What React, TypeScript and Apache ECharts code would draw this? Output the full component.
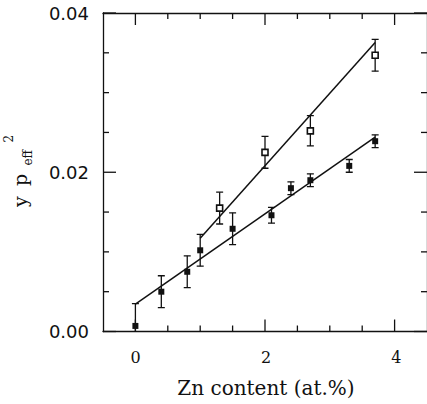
import React, { useEffect, useRef } from "react";
import * as echarts from "echarts";

// Filled squares (lower fit)
const xFilled = [0, 0.4, 0.8, 1.0, 1.5, 2.1, 2.4, 2.7, 3.3, 3.7];
const yFilled = [0.0007, 0.005, 0.0075, 0.0102, 0.0129, 0.0146, 0.018, 0.019, 0.0208, 0.0239];
const errFilled = [0.0028, 0.002, 0.002, 0.002, 0.002, 0.001, 0.0008, 0.0008, 0.0008, 0.0008];
// Open squares (upper fit)
const xOpen = [1.3, 2.0, 2.7, 3.7];
const yOpen = [0.0155, 0.0225, 0.0252, 0.0347];
const errOpen = [0.002, 0.002, 0.0019, 0.002];
// Fitted lines
const fitFilled = [[0, 0.00345], [3.7, 0.0244]];
const fitOpen = [[1.0, 0.0117], [3.7, 0.0363]];

// Tick marks (mirrored on all four sides)
const xTickMajor = [0, 2, 4];
const xTickMinor = [0.5, 1, 1.5, 2.5, 3, 3.5];
const yTickMajor = [0, 0.02, 0.04];
const yTickMinor = [0.005, 0.01, 0.015, 0.025, 0.03, 0.035];

const xName = "Zn content (at.%)";

const BLACK = "#111";

export default function App() {
  const ref = useRef<HTMLDivElement>(null);
  useEffect(() => {
    if (!ref.current) return;
    const chart = echarts.init(ref.current, null, { renderer: "svg" });

    const filled = xFilled.map((x, i) => [x, yFilled[i], errFilled[i]]);
    const open = xOpen.map((x, i) => [x, yOpen[i], errOpen[i]]);

    const tickStyle = { stroke: BLACK, lineWidth: 1.3 };

    const errRender = (params: any, api: any) => {
      const x = api.value(0);
      const y = api.value(1);
      const e = api.value(2);
      const top = api.coord([x, y + e]);
      const bot = api.coord([x, y - e]);
      const cw = 3.5;
      return {
        type: "group",
        children: [
          { type: "line", shape: { x1: top[0], y1: top[1], x2: bot[0], y2: bot[1] }, style: tickStyle },
          { type: "line", shape: { x1: top[0] - cw, y1: top[1], x2: top[0] + cw, y2: top[1] }, style: tickStyle },
          { type: "line", shape: { x1: bot[0] - cw, y1: bot[1], x2: bot[0] + cw, y2: bot[1] }, style: tickStyle },
        ],
      };
    };

    const xTickRender = (len: number) => (params: any, api: any) => {
      const cs = params.coordSys;
      const px = api.coord([api.value(0), 0.02])[0];
      const b = cs.y + cs.height;
      return {
        type: "group",
        children: [
          { type: "line", shape: { x1: px, y1: b, x2: px, y2: b - len }, style: tickStyle },
          { type: "line", shape: { x1: px, y1: cs.y, x2: px, y2: cs.y + len }, style: tickStyle },
        ],
      };
    };

    const yTickRender = (len: number) => (params: any, api: any) => {
      const cs = params.coordSys;
      const py = api.coord([2, api.value(1)])[1];
      const r = cs.x + cs.width;
      return {
        type: "group",
        children: [
          { type: "line", shape: { x1: cs.x, y1: py, x2: cs.x + len, y2: py }, style: tickStyle },
          { type: "line", shape: { x1: r, y1: py, x2: r - len, y2: py }, style: tickStyle },
        ],
      };
    };

    const frameAxis = {
      min: -0.5,
      max: 4.5,
      interval: 0.5,
      axisLine: { show: true, onZero: false, lineStyle: { color: BLACK, width: 1.3 } },
      axisTick: { show: false },
      axisLabel: { show: false },
      splitLine: { show: false },
    };

    const yBase = {
      min: 0,
      max: 0.04,
      interval: 0.02,
      axisLine: { show: true, onZero: false, lineStyle: { color: BLACK, width: 1.3 } },
      axisTick: { show: false },
      splitLine: { show: false },
    };

    const serifMain = '19px "DejaVu Serif"';
    const serifSmall = '12px "DejaVu Serif"';

    const tickSeries = (data: number[][], render: any) => ({
      type: "custom",
      xAxisIndex: 0,
      yAxisIndex: 0,
      data,
      renderItem: render,
      clip: false,
      silent: true,
      z: 5,
    });

    chart.setOption({
      animation: false,
      backgroundColor: "#fff",
      grid: [
        { left: 103, top: 13, width: 326, height: 318.5 },
        { left: 135.6, top: 13, width: 260.8, height: 318.5 },
      ],
      xAxis: [
        { ...frameAxis, type: "value", gridIndex: 0, position: "bottom" },
        { ...frameAxis, type: "value", gridIndex: 0, position: "top" },
        {
          type: "value",
          gridIndex: 1,
          position: "bottom",
          min: 0,
          max: 4,
          interval: 2,
          axisLine: { show: false, onZero: false },
          axisTick: { show: false },
          splitLine: { show: false },
          axisLabel: {
            show: true,
            margin: 18,
            color: BLACK,
            fontFamily: "DejaVu Serif",
            fontSize: 16,
          },
          name: xName,
          nameLocation: "middle",
          nameGap: 46,
          nameTextStyle: { color: BLACK, fontFamily: "DejaVu Serif", fontSize: 20 },
        },
      ],
      yAxis: [
        {
          ...yBase,
          type: "value",
          gridIndex: 0,
          position: "left",
          axisLabel: {
            show: true,
            margin: 14,
            color: BLACK,
            fontFamily: "DejaVu Sans",
            fontSize: 18,
            formatter: (v: number) => v.toFixed(2),
          },
        },
        { ...yBase, type: "value", gridIndex: 0, position: "right", axisLabel: { show: false } },
        { type: "value", gridIndex: 1, min: 0, max: 0.04, show: false, axisLine: { onZero: false } },
      ],
      graphic: [
        {
          type: "group",
          x: 27,
          y: 207,
          rotation: Math.PI / 2,
          children: [
            {
              type: "text",
              x: 0,
              y: -6.6,
              style: { text: "y", font: serifMain, fill: BLACK, textAlign: "left", textVerticalAlign: "middle", verticalAlign: "middle" },
            },
            {
              type: "text",
              x: 21,
              y: -6.6,
              style: { text: "p", font: serifMain, fill: BLACK, textAlign: "left", textVerticalAlign: "middle", verticalAlign: "middle" },
            },
            {
              type: "text",
              x: 41.5,
              y: 0.8,
              style: { text: "eff", font: serifSmall, fill: BLACK, textAlign: "left", textVerticalAlign: "middle", verticalAlign: "middle" },
            },
            {
              type: "text",
              x: 64.5,
              y: -17.7,
              style: { text: "2", font: serifSmall, fill: BLACK, textAlign: "left", textVerticalAlign: "middle", verticalAlign: "middle" },
            },
          ],
        },
      ],
      series: [
        tickSeries(xTickMajor.map((v) => [v, 0.02]), xTickRender(12)),
        tickSeries(xTickMinor.map((v) => [v, 0.02]), xTickRender(6)),
        tickSeries(yTickMajor.map((v) => [2, v]), yTickRender(13)),
        tickSeries(yTickMinor.map((v) => [2, v]), yTickRender(6)),
        {
          type: "custom",
          xAxisIndex: 0,
          yAxisIndex: 0,
          data: filled,
          renderItem: errRender,
          clip: true,
          z: 2,
        },
        {
          type: "custom",
          xAxisIndex: 0,
          yAxisIndex: 0,
          data: open,
          renderItem: errRender,
          clip: true,
          z: 2,
        },
        {
          type: "line",
          xAxisIndex: 0,
          yAxisIndex: 0,
          data: fitFilled,
          showSymbol: false,
          symbol: "none",
          lineStyle: { color: BLACK, width: 1.5 },
          z: 3,
        },
        {
          type: "line",
          xAxisIndex: 0,
          yAxisIndex: 0,
          data: fitOpen,
          showSymbol: false,
          symbol: "none",
          lineStyle: { color: BLACK, width: 1.5 },
          z: 3,
        },
        {
          type: "scatter",
          xAxisIndex: 0,
          yAxisIndex: 0,
          data: filled.map((d) => [d[0], d[1]]),
          symbol: "rect",
          symbolSize: 6,
          itemStyle: { color: BLACK, opacity: 1 },
          z: 4,
        },
        {
          type: "scatter",
          xAxisIndex: 0,
          yAxisIndex: 0,
          data: open.map((d) => [d[0], d[1]]),
          symbol: "rect",
          symbolSize: 6,
          itemStyle: { color: "#fff", borderColor: BLACK, borderWidth: 1.6, opacity: 1 },
          z: 4,
        },
      ],
    });
    return () => chart.dispose();
  }, []);

  return (
    <div
      ref={ref}
      style={{ position: "absolute", left: 0, top: 0, width: 427, height: 404, background: "#fff" }}
    />
  );
}
